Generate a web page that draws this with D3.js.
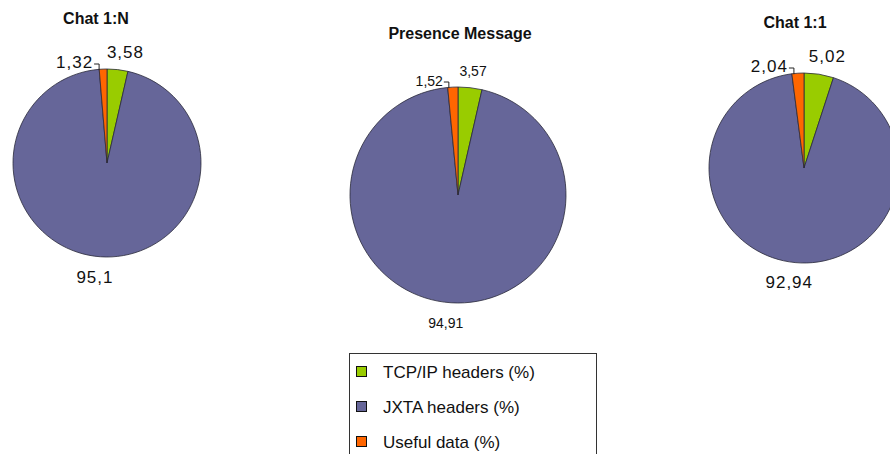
<!DOCTYPE html>
<html>
<head>
<meta charset="utf-8">
<script src="https://cdn.jsdelivr.net/npm/d3@7"></script>
<style>
  html, body { margin: 0; padding: 0; background: #fff; }
  svg { display: block; }
  text { font-family: Arial, "Liberation Sans", sans-serif; }
</style>
</head>
<body>
<svg id="chart" width="890" height="454"></svg>
<script>
// ---- data ----
const chartTitles = ["Chat 1:N", "Presence Message", "Chat 1:1"];
const seriesNames = ["TCP/IP headers (%)", "JXTA headers (%)", "Useful data (%)"];
const tcpValues = [3.58, 3.57, 5.02];
const jxtaValues = [95.1, 94.91, 92.94];
const usefulValues = [1.32, 1.52, 2.04];
const seriesColors = ["#99cc00", "#666699", "#ff6600"];

// ---- layout ----
const layout = [
  { cx: 107, cy: 163, r: 94, titleX: 96, titleY: 24, font: 17, spacing: 1 },
  { cx: 458, cy: 195, r: 108, titleX: 460, titleY: 39, font: 14, spacing: 0 },
  { cx: 804, cy: 168, r: 95, titleX: 795, titleY: 28, font: 17, spacing: 1 }
];

const svg = d3.select("#chart");
const color = d3.scaleOrdinal().domain(seriesNames).range(seriesColors);
const pie = d3.pie().sort(null).value(d => d.value);
const fmt = v => String(v).replace(".", ",");

chartTitles.forEach((title, i) => {
  const L = layout[i];
  const data = seriesNames.map((name, k) => ({
    name,
    value: [tcpValues, jxtaValues, usefulValues][k][i]
  }));
  const arcs = pie(data);
  const arc = d3.arc().innerRadius(0).outerRadius(L.r);
  const g = svg.append("g").attr("transform", `translate(${L.cx},${L.cy})`);

  g.selectAll("path").data(arcs).join("path")
    .attr("d", arc)
    .attr("fill", d => color(d.data.name))
    .attr("stroke", "#2a2a3a")
    .attr("stroke-width", 0.8);

  svg.append("text")
    .attr("x", L.titleX).attr("y", L.titleY)
    .attr("text-anchor", "middle")
    .attr("font-size", 16).attr("font-weight", "bold")
    .attr("fill", "#111")
    .text(title);

  const mid = d => (d.startAngle + d.endAngle) / 2;
  const lab = g.append("g")
    .attr("font-size", L.font)
    .attr("letter-spacing", L.spacing)
    .attr("fill", "#111");

  // TCP/IP (first slice) label: outside, right of top
  const a0 = arcs[0];
  const m0 = mid(a0);
  lab.append("text")
    .attr("x", (L.r + 12) * Math.sin(m0) - 12)
    .attr("y", -(L.r + 12) * Math.cos(m0))
    .attr("text-anchor", "start")
    .text(fmt(a0.data.value));

  // JXTA (large slice) label: below
  const a1 = arcs[1];
  const m1 = mid(a1);
  lab.append("text")
    .attr("x", (L.r + 20) * Math.sin(m1) - 4)
    .attr("y", -(L.r + 20) * Math.cos(m1))
    .attr("dy", "0.35em")
    .attr("text-anchor", "middle")
    .text(fmt(a1.data.value));

  // Useful data (last slice) label with leader
  const a2 = arcs[2];
  const m2 = mid(a2);
  const ex = L.r * Math.sin(m2), ey = -L.r * Math.cos(m2);
  const vx = ex - 4;
  g.append("path")
    .attr("d", `M${vx},${ey + 1}L${vx},${-(L.r + 5)}L${vx - 5},${-(L.r + 5)}`)
    .attr("fill", "none").attr("stroke", "#222").attr("stroke-width", 1);
  lab.append("text")
    .attr("x", vx - 6)
    .attr("y", -(L.r + 1))
    .attr("text-anchor", "end")
    .text(fmt(a2.data.value));
});

// ---- legend ----
const leg = svg.append("g");
leg.append("rect")
  .attr("x", 349.5).attr("y", 353.5)
  .attr("width", 247).attr("height", 130)
  .attr("fill", "#fff").attr("stroke", "#333").attr("stroke-width", 1);
const ly = d3.scalePoint().domain(seriesNames).range([372, 442]);
const items = leg.selectAll("g.item").data(seriesNames).join("g")
  .attr("class", "item")
  .attr("transform", d => `translate(0,${ly(d)})`);
items.append("rect")
  .attr("x", 356.5).attr("y", -5.5)
  .attr("width", 10).attr("height", 10)
  .attr("fill", d => color(d))
  .attr("stroke", "#111").attr("stroke-width", 1);
items.append("text")
  .attr("x", 383).attr("y", 6)
  .attr("font-size", 17)
  .attr("fill", "#111")
  .text(d => d);
</script>
</body>
</html>
